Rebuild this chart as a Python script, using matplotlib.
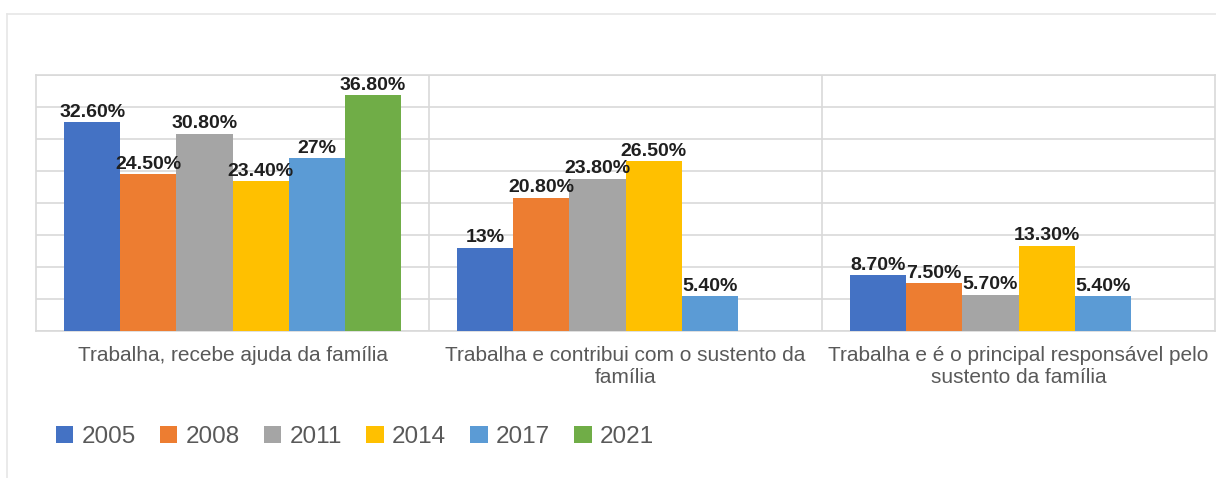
import numpy as np
import matplotlib
matplotlib.use("Agg")
import matplotlib.pyplot as plt
from matplotlib.lines import Line2D

plt.rcParams['font.family'] = ['Liberation Sans', 'DejaVu Sans']

# Data
categories = [
    'Trabalha, recebe ajuda da família',
    'Trabalha e contribui com o sustento da\nfamília',
    'Trabalha e é o principal responsável pelo\nsustento da família',
]
years = ['2005', '2008', '2011', '2014', '2017', '2021']
v2005 = [32.6, 13.0, 8.7]
v2008 = [24.5, 20.8, 7.5]
v2011 = [30.8, 23.8, 5.7]
v2014 = [23.4, 26.5, 13.3]
v2017 = [27.0, 5.4, 5.4]
v2021 = [36.8, np.nan, np.nan]
series = [v2005, v2008, v2011, v2014, v2017, v2021]
colors = ['#4472C4', '#ED7D31', '#A5A5A5', '#FFC000', '#5B9BD5', '#70AD47']

fig = plt.figure(figsize=(12.16, 4.78), dpi=100)
ax = fig.add_axes([36 / 1216, 1 - 331 / 478, 1179 / 1216, 256 / 478])

x = np.arange(len(categories))
width = 1 / 7
for i, (vals, col, yr) in enumerate(zip(series, colors, years)):
    pos = x + (i - 2.5) * width
    bars = ax.bar(pos, vals, width, color=col, label=yr, zorder=3)
    for b, v in zip(bars, vals):
        if np.isnan(v):
            continue
        txt = f"{v:.0f}%" if float(v).is_integer() else f"{v:.2f}%"
        ax.annotate(txt, (b.get_x() + b.get_width() / 2, v),
                    xytext=(0, 1), textcoords='offset points',
                    ha='center', va='bottom', fontsize=14,
                    fontweight='bold', color='#1f1f1f', zorder=4)

ax.set_xlim(-0.5, 2.5)
ax.set_ylim(0, 40)
ax.set_yticks(np.arange(0, 41, 5))
ax.set_yticklabels([])
ax.set_xticks(x)
ax.set_xticklabels(categories, fontsize=15, color='#595959')
ax.set_xticks([0.5, 1.5], minor=True)
ax.tick_params(axis='both', which='both', length=0)
ax.tick_params(axis='x', pad=11)
ax.grid(axis='y', color='#D9D9D9', lw=1.2, zorder=0)
ax.grid(axis='x', which='minor', color='#D9D9D9', lw=1.2, zorder=0)
for s in ax.spines.values():
    s.set_color('#D9D9D9')
    s.set_linewidth(1.2)

# chart area border (light)
fig.add_artist(Line2D([7 / 1216, 1], [1 - 14 / 478, 1 - 14 / 478],
                      color='#E6E6E6', lw=1.2))
fig.add_artist(Line2D([7 / 1216, 7 / 1216], [0, 1 - 14 / 478],
                      color='#E6E6E6', lw=1.2))

fig.legend(loc='center', bbox_to_anchor=(355 / 1216, 1 - 437 / 478),
           ncol=6, frameon=False, fontsize=17.5, labelcolor='#595959',
           handlelength=0.72, handleheight=0.72, handletextpad=0.35,
           columnspacing=0.98, borderaxespad=0)

fig.savefig('out.png', dpi=100)
